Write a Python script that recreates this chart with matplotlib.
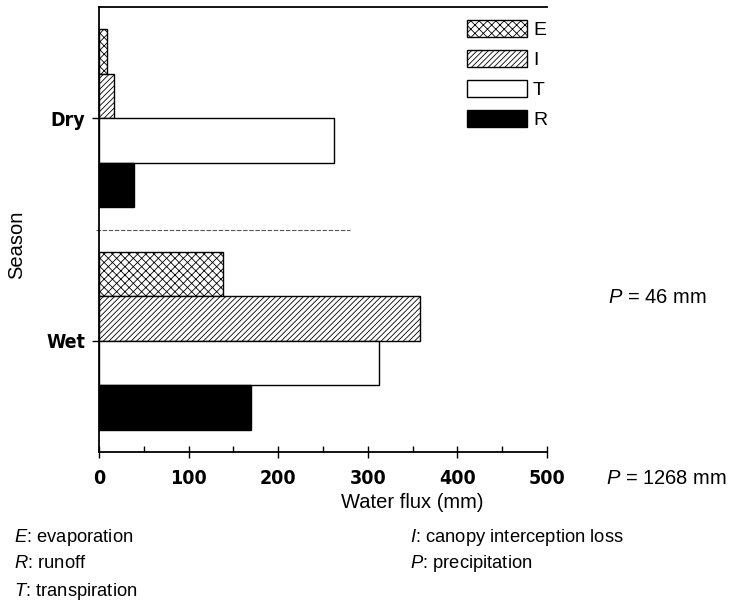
import matplotlib
matplotlib.use("Agg")
import matplotlib.pyplot as plt
from matplotlib.patches import Patch
from matplotlib.ticker import MultipleLocator
from matplotlib import font_manager as fm
import numpy as np

seasons = ["Dry", "Wet"]
components = ["E", "I", "T", "R"]
values = {
    "E": [9, 138],
    "I": [17, 358],
    "T": [262, 313],
    "R": [39, 170],
}
hatches = {"E": "xxxx", "I": "//////", "T": "", "R": ""}
faces = {"E": "white", "I": "white", "T": "white", "R": "black"}
precip_labels = ["$P$ = 46 mm", "$P$ = 1268 mm"]
notes_left = ["$E$: evaporation", "$R$: runoff", "$T$: transpiration"]
notes_right = ["$I$: canopy interception loss", "$P$: precipitation"]

plt.rcParams["hatch.linewidth"] = 0.6
plt.rcParams["font.family"] = ["Liberation Sans", "DejaVu Sans"]
plt.rcParams["mathtext.fontset"] = "custom"
plt.rcParams["mathtext.it"] = "Liberation Sans:italic"
plt.rcParams["mathtext.rm"] = "Liberation Sans"

# condensed bold font for tick labels if available
cond_path = None
for f in fm.findSystemFonts():
    name = f.lower()
    if "dejavusanscondensed-bold.ttf" in name or "liberationsansnarrow-bold.ttf" in name:
        cond_path = f
        if "liberation" in name:
            break
tick_fp = fm.FontProperties(fname=cond_path, size=14) if cond_path else \
    fm.FontProperties(family="Liberation Sans", weight="bold", size=14)

fig = plt.figure(figsize=(7.38, 6.07), dpi=100)
ax = fig.add_axes([99/738, 1-452/607, 448/738, 445/607])

centers = np.array([0.0, 5.0])
offsets = [-1.5, -0.5, 0.5, 1.5]
for comp, off in zip(components, offsets):
    ax.barh(centers + off, values[comp], height=1.0, left=0,
            color=faces[comp], edgecolor="black", linewidth=1.0,
            hatch=hatches[comp])

ax.set_xlim(0, 500)
ax.set_ylim(7.5, -2.5)
ax.xaxis.set_major_locator(MultipleLocator(100))
ax.xaxis.set_minor_locator(MultipleLocator(50))
ax.set_yticks(centers)
ax.set_yticklabels(seasons)
for lab in ax.get_xticklabels() + ax.get_yticklabels():
    lab.set_fontproperties(tick_fp)
ax.tick_params(axis="x", which="major", direction="inout", length=8, width=1, pad=8)
ax.tick_params(axis="x", which="minor", direction="in", length=4, width=1)
ax.tick_params(axis="y", direction="out", length=5, width=1, pad=5)
ax.spines["right"].set_visible(False)
for s in ["left", "bottom", "top"]:
    ax.spines[s].set_linewidth(1.3)

# separator between seasons
ax.plot([-3, 280], [2.5, 2.5], color="#555555", linestyle=(0, (4, 1.5)),
        linewidth=0.8, clip_on=False)

fig.text(412/738, 1-503/607, "Water flux (mm)", fontsize=14.5, va="center", ha="center")
fig.text(17/738, 1-245/607, "Season", fontsize=14.5, va="center", ha="center",
         rotation=90)

handles = [Patch(facecolor=faces[c], edgecolor="black", hatch=hatches[c], linewidth=1.0)
           for c in components]
leg = ax.legend(handles, components, loc="upper left",
                bbox_to_anchor=((467-99)/448, 1-13/445),
                frameon=False, fontsize=14, handlelength=3.1, handleheight=0.93,
                labelspacing=0.57, handletextpad=0.3, borderaxespad=0, borderpad=0)

fig.text(608/738, 1-297/607, precip_labels[0], fontsize=14.5, va="center", ha="left")
fig.text(606/738, 1-478/607, precip_labels[1], fontsize=14.5, va="center", ha="left")

for i, t in enumerate(notes_left):
    fig.text(14/738, 1-(537 + 27*i)/607, t, fontsize=13.2, va="center", ha="left")
for i, t in enumerate(notes_right):
    fig.text(410/738, 1-(537 + 27*i)/607, t, fontsize=13.2, va="center", ha="left")

fig.savefig("out.png", dpi=100)
